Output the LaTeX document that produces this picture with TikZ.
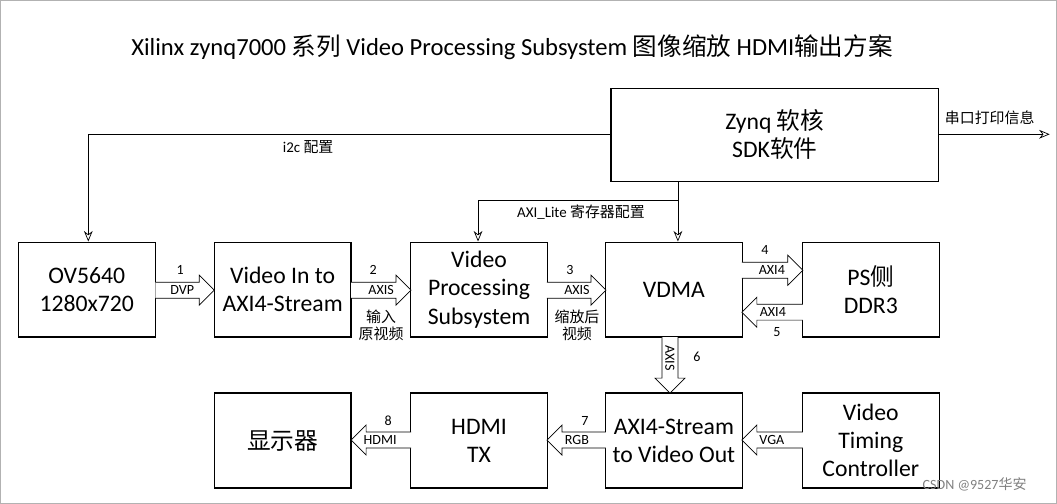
\documentclass[tikz,border=0pt]{standalone}
\usepackage{fontspec}
\setmainfont{Carlito}
\newfontfamily\cjk{Noto Sans CJK SC}
\usetikzlibrary{arrows.meta}
\tikzset{
  blk/.style={draw, thick, minimum width=2.74cm, minimum height=1.9cm, align=center, font=\fontsize{13.5}{16}\selectfont},
  lbl/.style={font=\fontsize{8}{9}\selectfont, inner sep=1pt, align=center},
  thin/.style={draw, -{Stealth[length=6pt,width=5pt,open]}},
}
% hollow block arrow: \harrow{x1}{x2}{y} (pixel coords)
\newcommand{\harrow}[3]{%
  \pgfmathsetmacro{\dir}{(#2>#1)?1:-1}
  \draw[fill=white] (#1,#3-8) -- ({#2-\dir*15},#3-8) -- ({#2-\dir*15},#3-15) -- (#2,#3)
    -- ({#2-\dir*15},#3+15) -- ({#2-\dir*15},#3+8) -- (#1,#3+8);}
\begin{document}
\begin{tikzpicture}[x=0.02cm, y=-0.02cm]
  \draw[gray!60, fill=white] (0,0) rectangle (1057,503);
  \node[font=\fontsize{14}{16}\selectfont] (title) at (512,47) {Xilinx zynq7000 {\cjk 系列} Video Processing Subsystem {\cjk 图像缩放} HDMI{\cjk 输出方案}};
  % top row
  \node[blk] (ov)   at (86.5,289.5)  {OV5640\\1280x720};
  \node[blk] (vin)  at (282.5,289.5) {Video In to\\AXI4-Stream};
  \node[blk] (vps)  at (479,289.5)   {Video\\Processing\\Subsystem};
  \node[blk] (vdma) at (674,289.5)   {VDMA};
  \node[blk] (ddr)  at (871,289.5)   {PS{\cjk 侧}\\DDR3};
  \node[blk, minimum width=6.56cm, minimum height=1.86cm] (zynq) at (775,134.5) {Zynq {\cjk 软核}\\SDK{\cjk 软件}};
  % bottom row
  \node[blk] (disp) at (282.5,440.5) {\cjk 显示器};
  \node[blk] (tx)   at (479,440.5)   {HDMI\\TX};
  \node[blk] (vout) at (674,440.5)   {AXI4-Stream\\to Video Out};
  \node[blk] (vtc)  at (871,440.5)   {Video\\Timing\\Controller};
  % control links
  \coordinate (i2c) at (88,134);
  \draw[thin] (zynq.west |- i2c) -- (i2c) -- (ov.north -| i2c);
  \node[lbl, font=\fontsize{8.5}{10}\selectfont] at (308,147) {i2c {\cjk 配置}};
  \coordinate (axl) at (678,200);
  \draw[thin] (zynq.south -| axl) -- (vdma.north -| axl);
  \draw[thin] (axl) -- (478,200) -- (vps.north -| 478,0);
  \node[lbl, font=\fontsize{8.5}{10}\selectfont] at (581,212) {AXI\_Lite {\cjk 寄存器配置}};
  \coordinate (uart) at (1050,134);
  \draw[thin] (zynq.east |- uart) -- (uart);
  \node[lbl, font=\fontsize{8.5}{10}\selectfont] at (990,118) {\cjk 串口打印信息};
  % data paths
  \harrow{155}{214}{290} \node[lbl] at (180,270) {1}; \node[lbl] at (182,290) {DVP};
  \harrow{351}{411}{290} \node[lbl] at (373,270) {2}; \node[lbl] at (381,290) {AXIS};
  \node[lbl, font=\fontsize{8.5}{10}\cjk] at (381,325) {输入\\原视频};
  \harrow{547}{606}{290} \node[lbl] at (570,270) {3}; \node[lbl] at (577,290) {AXIS};
  \node[lbl, font=\fontsize{8.5}{10}\cjk] at (577,325) {缩放后\\视频};
  \harrow{742}{803}{270} \node[lbl] at (765,250) {4}; \node[lbl] at (772,270) {AXI4};
  \harrow{803}{742}{312} \node[lbl] at (777,332) {5}; \node[lbl] at (773,312) {AXI4};
  \draw[fill=white] (662,337) -- (662,378) -- (655,378) -- (670,393) -- (685,378) -- (678,378) -- (678,337);
  \node[lbl, rotate=-90] at (670,358) {AXIS}; \node[lbl] at (697,357) {6};
  \harrow{411}{351}{440} \node[lbl] at (388,421) {8}; \node[lbl] at (380,440) {HDMI};
  \harrow{606}{547}{440} \node[lbl] at (585,421) {7}; \node[lbl] at (577,440) {RGB};
  \harrow{803}{742}{440} \node[lbl] at (772,440) {VGA};
  \node[lbl, gray, font=\fontsize{8}{10}\selectfont] at (975,484) {CSDN @9527{\cjk 华安}};
\end{tikzpicture}
\end{document}
